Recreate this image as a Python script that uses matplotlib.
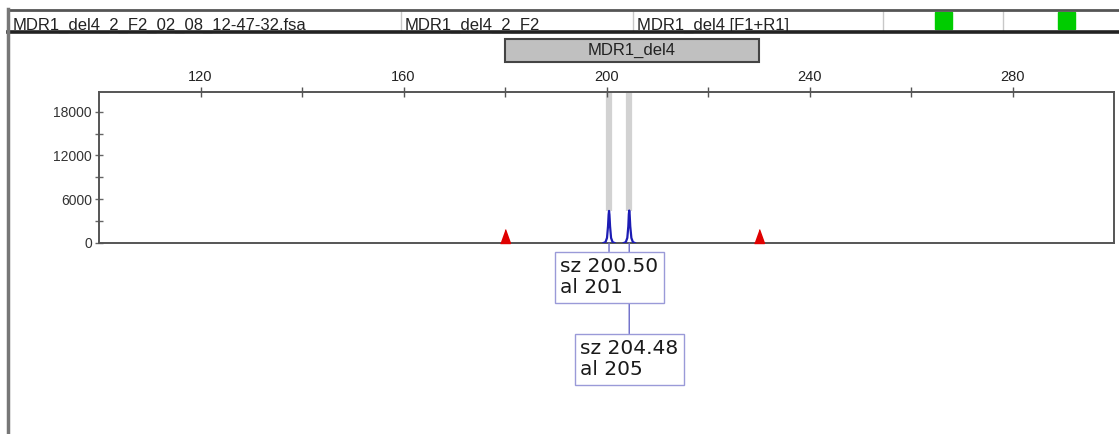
import matplotlib.pyplot as plt
import matplotlib.transforms as mtransforms
from matplotlib.patches import Rectangle

# Datos del electroferograma
archivo = 'MDR1_del4_2_F2_02_08_12-47-32.fsa'
muestra = 'MDR1_del4_2_F2'
panel = 'MDR1_del4 [F1+R1]'
bin_nombre = 'MDR1_del4'
bin_rango = [180, 230]

picos_tam = [200.50, 204.48]
picos_alelo = [201, 205]
picos_altura = [4400, 4450]

# Trazo azul alrededor de cada pico (tamaño en pb, RFU)
traza_x = [
    [199.4, 199.8, 200.1, 200.3, 200.42, 200.5, 200.58, 200.7, 200.9, 201.2, 201.6],
    [203.4, 203.8, 204.1, 204.3, 204.4, 204.48, 204.56, 204.68, 204.9, 205.2, 205.6],
]
traza_y = [
    [0, 120, 700, 2300, 3900, 4400, 3900, 2300, 700, 120, 0],
    [0, 120, 700, 2300, 3950, 4450, 3950, 2300, 700, 120, 0],
]

# Marcas rojas (estándar de tamaño)
marcas_rojas = [180, 230]

x_ticks = [120, 160, 200, 240, 280]
x_menores = [140, 180, 220, 260]
y_ticks = [0, 6000, 12000, 18000]
y_menores = [3000, 9000, 15000]

W, H = 1119, 434
fig = plt.figure(figsize=(W / 100, H / 100), dpi=100)

# Capa de encabezado en coordenadas de pixel
hdr = fig.add_axes([0, 0, 1, 1], zorder=0)
hdr.set_xlim(0, W)
hdr.set_ylim(H, 0)
hdr.axis('off')

fuente_hdr = dict(family='Liberation Sans', fontsize=12, color='#222222')
hdr.text(13, 29.5, archivo, **fuente_hdr)
hdr.text(405, 29.5, muestra, **fuente_hdr)
hdr.text(637, 29.5, panel, **fuente_hdr)
for xd in [401, 633, 883, 1003]:
    hdr.plot([xd, xd], [10, 31], color='#c8c8c8', lw=1, zorder=2)
for xg in [935, 1058]:
    hdr.add_patch(Rectangle((xg, 12), 17, 17, color='#00cc00', zorder=3))
hdr.plot([8, W], [10, 10], color='#555555', lw=2, zorder=4)
hdr.plot([8, W], [31.8, 31.8], color='#222222', lw=2.6, zorder=4)
hdr.plot([8, 8], [9, H], color='#777777', lw=2.5, zorder=4)

# Eje principal
ax = fig.add_axes([99 / W, (H - 243) / H, (1114 - 99) / W, (243 - 92) / H], zorder=1)
ax.set_xlim(100, 300)
ax.set_ylim(0, 20700)

# Barras grises sobre los picos
for t, h in zip(picos_tam, picos_altura):
    ax.vlines(t, h, 20700, color='#d2d2d2', lw=4.5, zorder=1)

for xs, ys in zip(traza_x, traza_y):
    ax.plot(xs, ys, color='#1c1cb4', lw=1.6, zorder=3)

ax.plot(marcas_rojas, [0] * len(marcas_rojas), ls='none',
        marker=[(-0.36, 0), (0.36, 0), (0, 1)], markersize=20,
        color='#e00000', clip_on=False, zorder=4)

# Bin del marcador
mezcla = mtransforms.blended_transform_factory(ax.transData, hdr.transData)
ax.add_patch(Rectangle((bin_rango[0], 38.5), bin_rango[1] - bin_rango[0], 23,
                       transform=mezcla, facecolor='#c0c0c0', edgecolor='#444444',
                       lw=1.5, clip_on=False))
ax.text(sum(bin_rango) / 2, 50, bin_nombre, transform=mezcla, ha='center', va='center',
        family='Liberation Sans', fontsize=12, color='#222222', clip_on=False)

# Ejes y ticks
ax.xaxis.tick_top()
ax.set_xticks(x_ticks)
ax.set_xticks(x_menores, minor=True)
ax.set_yticks(y_ticks)
ax.set_yticks(y_menores, minor=True)
ax.tick_params(axis='x', which='both', direction='inout', length=7, width=1,
               color='#555555', pad=2, labelsize=10.5, labelcolor='#222222')
ax.tick_params(axis='y', which='both', direction='inout', length=6, width=1,
               color='#666666', pad=2, labelsize=10, labelcolor='#333333')
for lbl in ax.get_xticklabels() + ax.get_yticklabels():
    lbl.set_family('Liberation Sans')
for s in ax.spines.values():
    s.set_color('#555555')
    s.set_linewidth(1.4)

# Etiquetas de los picos
desplaz = [-14.5, -96.5]
for i, (t, a) in enumerate(zip(picos_tam, picos_alelo)):
    ax.annotate(f'sz {t:.2f}\nal {a}', xy=(t, 0), xytext=(0, desplaz[i]),
                textcoords='offset pixels', ha='center', va='top',
                multialignment='left', fontsize=14.5, color='#1a1a1a', linespacing=1.12,
                bbox=dict(boxstyle='square,pad=0.27', fc='white', ec='#9a9ad8', lw=1),
                arrowprops=dict(arrowstyle='-', color='#6a6ac8', lw=1,
                                shrinkA=0, shrinkB=0, relpos=(0.5, 1)),
                annotation_clip=False, zorder=10 - i)

fig.savefig('out.png', dpi=100)
